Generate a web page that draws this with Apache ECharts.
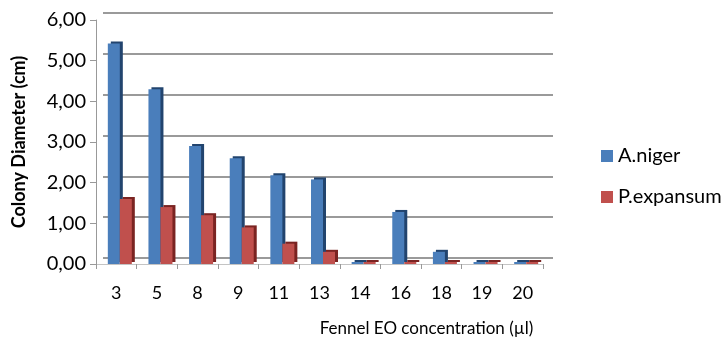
<!DOCTYPE html>
<html>
<head>
<meta charset="utf-8">
<script src="https://cdn.jsdelivr.net/npm/echarts@6/dist/echarts.min.js"></script>
<style>
  html, body { margin: 0; padding: 0; background: #fff; }
  #chart { width: 725px; height: 339px; }
</style>
</head>
<body>
<div id="chart"></div>
<script>
const categories = ["3", "5", "8", "9", "11", "13", "14", "16", "18", "19", "20"];
const aNiger = [5.42, 4.3, 2.9, 2.6, 2.18, 2.08, 0, 1.28, 0.3, 0, 0];
const pExpansum = [1.6, 1.4, 1.2, 0.9, 0.5, 0.3, 0, 0, 0, 0, 0];
const spacer = categories.map(() => 0);
const yTicks = { min: 0, max: 6, interval: 1 };

const chart = echarts.init(document.getElementById("chart"));
const font = "Lato, 'Open Sans', sans-serif";

const option = {
  animation: false,
  textStyle: { fontFamily: font },
  legend: {
    orient: "vertical",
    left: 596,
    top: 141,
    itemGap: 21,
    itemWidth: 12,
    itemHeight: 12,
    icon: "rect",
    textStyle: { fontSize: 20, color: "#000", fontFamily: font },
    data: ["A.niger", "P.expansum"]
  },
  grid: [
    // back wall (gridlines only)
    { left: 103, top: 13, width: 450, height: 245, outerBoundsMode: "none" },
    // front plane (axes and bars)
    { left: 96, top: 20, width: 447, height: 244, outerBoundsMode: "none" }
  ],
  xAxis: [
    {
      gridIndex: 0, type: "category", data: categories, show: false
    },
    {
      gridIndex: 1, type: "category", data: categories,
      axisLine: { lineStyle: { color: "#c4c4c4", width: 1 } },
      axisTick: { show: true, length: 5, lineStyle: { color: "#999" } },
      axisLabel: { fontSize: 18, color: "#000", margin: 20, fontFamily: font },
      name: "Fennel EO concentration (\u00b5l)",
      nameLocation: "middle",
      nameGap: 56,
      nameTextStyle: { fontSize: 17, color: "#000", fontFamily: font, padding: [0, 0, 0, 214] }
    }
  ],
  yAxis: [
    {
      gridIndex: 0, type: "value", min: yTicks.min, max: yTicks.max, interval: yTicks.interval,
      axisLine: { show: false }, axisTick: { show: false }, axisLabel: { show: false },
      splitLine: { show: true, lineStyle: { color: "#9a9a9a", width: 2 } }
    },
    {
      gridIndex: 1, type: "value", min: yTicks.min, max: yTicks.max, interval: yTicks.interval,
      axisLine: { show: true, lineStyle: { color: "#999", width: 1 } },
      axisTick: { show: true, length: 6, lineStyle: { color: "#999" } },
      splitLine: { show: false },
      axisLabel: {
        fontSize: 20, color: "#000", margin: 10, fontFamily: font,
        formatter: v => v.toFixed(2).replace(".", ",")
      },
      name: "Colony Diameter (cm)",
      nameLocation: "middle",
      nameGap: 68,
      nameTextStyle: { fontSize: 18, fontWeight: "bold", color: "#000", fontFamily: font }
    }
  ],
  series: [
    {
      name: "spacer",
      type: "bar",
      xAxisIndex: 1, yAxisIndex: 1,
      data: spacer,
      barWidth: 7,
      barGap: "0%",
      itemStyle: { color: "rgba(0,0,0,0)" },
      silent: true
    },
    {
      name: "A.niger",
      type: "bar",
      xAxisIndex: 1, yAxisIndex: 1,
      data: aNiger,
      barWidth: 12,
      barGap: "0%",
      barMinHeight: 2,
      itemStyle: {
        color: "#4a7ebb",
        shadowColor: "#22446e",
        shadowBlur: 0,
        shadowOffsetX: 3,
        shadowOffsetY: -2
      }
    },
    {
      name: "P.expansum",
      type: "bar",
      xAxisIndex: 1, yAxisIndex: 1,
      data: pExpansum,
      barWidth: 12,
      barGap: "0%",
      barMinHeight: 2,
      itemStyle: {
        color: "#c0504d",
        shadowColor: "#7a2422",
        shadowBlur: 0,
        shadowOffsetX: 3,
        shadowOffsetY: -2
      }
    }
  ]
};

chart.setOption(option);
</script>
</body>
</html>
